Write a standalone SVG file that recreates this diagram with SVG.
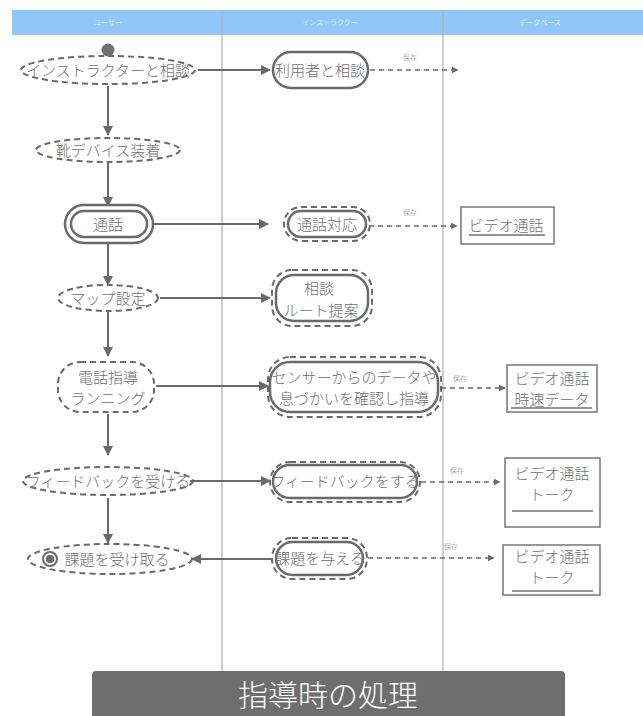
<svg xmlns="http://www.w3.org/2000/svg" width="643" height="716" viewBox="0 0 643 716">
<style>
text{font-family:"Noto Sans CJK JP","Noto Sans",sans-serif;fill:#707070;font-weight:300;}
.t{font-size:15px;text-anchor:middle;}
.hd{font-size:7px;fill:#ffffff;text-anchor:middle;}
.lb{font-size:7px;text-anchor:middle;fill:#808080;}
.dsh{fill:none;stroke:#6a6a6a;stroke-width:2;stroke-dasharray:6 4;}
.sol{fill:#ffffff;stroke:#6a6a6a;stroke-width:2.5;}
.box{fill:#ffffff;stroke:#777777;stroke-width:1.5;}
.ul{stroke:#707070;stroke-width:1.3;}
.lane{stroke:#b0b0b0;stroke-width:1.2;}
.c{stroke:#6a6a6a;stroke-width:2;fill:none;}
.cd{stroke:#6a6a6a;stroke-width:1.6;fill:none;stroke-dasharray:5 4;}
</style>
<defs>
<marker id="ah" viewBox="0 0 10 10" refX="9" refY="5" markerWidth="7" markerHeight="7" markerUnits="userSpaceOnUse" orient="auto"><path d="M0,0 L10,5 L0,10 z" fill="#6a6a6a"/></marker>
<marker id="ahb" viewBox="0 0 10 10" refX="9" refY="5" markerWidth="10" markerHeight="10" markerUnits="userSpaceOnUse" orient="auto"><path d="M0,0 L10,5 L0,10 z" fill="#6a6a6a"/></marker>
</defs>
<rect width="643" height="716" fill="#ffffff"/>
<g id="lanes">
<rect x="12" y="10" width="631" height="25" fill="#90c6f8"/>
<text class="hd" x="108" y="25">ユーザー</text>
<text class="hd" x="330" y="25">インストラクター</text>
<text class="hd" x="540" y="25">データベース</text>
<line class="lane" x1="222" y1="10" x2="222" y2="672"/>
<line class="lane" x1="443" y1="10" x2="443" y2="672"/>
</g>
<g id="connectors">
<line class="c" x1="108" y1="86" x2="108" y2="135" marker-end="url(#ahb)"/>
<line class="c" x1="108" y1="163" x2="108" y2="206" marker-end="url(#ahb)"/>
<line class="c" x1="108" y1="243" x2="108" y2="285" marker-end="url(#ahb)"/>
<line class="c" x1="108" y1="312" x2="108" y2="356" marker-end="url(#ahb)"/>
<line class="c" x1="108" y1="414" x2="108" y2="455" marker-end="url(#ahb)"/>
<line class="c" x1="108" y1="498" x2="108" y2="543" marker-end="url(#ahb)"/>
<line class="c" x1="198" y1="70" x2="270" y2="70" marker-end="url(#ahb)"/>
<line class="c" x1="151" y1="224" x2="268" y2="224" marker-end="url(#ahb)"/>
<line class="c" x1="160" y1="298" x2="270" y2="298" marker-end="url(#ahb)"/>
<line class="c" x1="156" y1="386" x2="268" y2="386" marker-end="url(#ahb)"/>
<line class="c" x1="190" y1="481" x2="270" y2="481" marker-end="url(#ahb)"/>
<line class="c" x1="272" y1="559" x2="192" y2="559" marker-end="url(#ahb)"/>
<line class="cd" x1="370" y1="70" x2="458" y2="70" marker-end="url(#ah)"/>
<text class="lb" x="410" y="60">保存</text>
<line class="cd" x1="369" y1="226" x2="457" y2="226" marker-end="url(#ah)"/>
<text class="lb" x="410" y="215">保存</text>
<line class="cd" x1="441" y1="388" x2="505" y2="388" marker-end="url(#ah)"/>
<text class="lb" x="460" y="381">保存</text>
<line class="cd" x1="421" y1="482" x2="500" y2="482" marker-end="url(#ah)"/>
<text class="lb" x="457" y="473">保存</text>
<line class="cd" x1="368" y1="558" x2="494" y2="558" marker-end="url(#ah)"/>
<text class="lb" x="451" y="549">保存</text>
</g>
<g id="n1">
<ellipse class="dsh" cx="108" cy="70" rx="87" ry="14"/>
<circle cx="108" cy="50" r="6.5" fill="#707070"/>
<text class="t" x="108" y="76">インストラクターと相談</text>
</g>
<g id="n2">
<rect class="sol" x="273" y="52" width="95" height="36" rx="18"/>
<text class="t" x="320" y="76">利用者と相談</text>
</g>
<g id="n3">
<ellipse class="dsh" cx="108" cy="150" rx="72" ry="12"/>
<text class="t" x="108" y="156">靴デバイス装着</text>
</g>
<g id="n4">
<rect class="sol" x="65" y="205" width="88" height="38" rx="19"/>
<rect class="sol" x="71" y="211" width="76" height="26" rx="13"/>
<text class="t" x="108" y="230">通話</text>
</g>
<g id="n5">
<rect class="dsh" x="284" y="207" width="86" height="34" rx="17"/>
<rect class="sol" x="288" y="211" width="78" height="26" rx="13"/>
<text class="t" x="327" y="230">通話対応</text>
</g>
<g id="n6">
<rect class="box" x="461" y="207" width="93" height="37"/>
<text class="t" x="506" y="231">ビデオ通話</text>
<line class="ul" x1="469" y1="235" x2="545" y2="235"/>
</g>
<g id="n7">
<ellipse class="dsh" cx="108" cy="298" rx="50" ry="13"/>
<text class="t" x="108" y="304">マップ設定</text>
</g>
<g id="n8">
<rect class="dsh" x="272" y="270" width="100" height="56" rx="20"/>
<rect class="sol" x="276" y="275" width="92" height="46" rx="18"/>
<text class="t" x="319" y="294">相談</text>
<text class="t" x="321" y="316">ルート提案</text>
</g>
<g id="n9">
<rect class="dsh" x="58" y="362" width="96" height="50" rx="22"/>
<text class="t" x="108" y="383">電話指導</text>
<text class="t" x="108" y="404">ランニング</text>
</g>
<g id="n10">
<rect class="dsh" x="268" y="357" width="173" height="60" rx="22"/>
<rect class="sol" x="270" y="362" width="168" height="50" rx="20"/>
<text class="t" x="354" y="383">センサーからのデータや</text>
<text class="t" x="354" y="404">息づかいを確認し指導</text>
</g>
<g id="n11">
<rect class="box" x="507" y="365" width="90" height="47"/>
<text class="t" x="552" y="384">ビデオ通話</text>
<text class="t" x="552" y="405">時速データ</text>
<line class="ul" x1="511" y1="408" x2="592" y2="408"/>
</g>
<g id="n12">
<ellipse class="dsh" cx="108" cy="481" rx="85" ry="14"/>
<text class="t" x="108" y="487">フィードバックを受ける</text>
</g>
<g id="n13">
<rect class="dsh" x="270" y="462" width="150" height="40" rx="20"/>
<rect class="sol" x="273" y="465" width="144" height="33" rx="16.5"/>
<text class="t" x="345" y="487">フィードバックをする</text>
</g>
<g id="n14">
<rect class="box" x="505" y="458" width="95" height="69"/>
<text class="t" x="552" y="479">ビデオ通話</text>
<text class="t" x="552" y="500">トーク</text>
<line class="ul" x1="512" y1="511" x2="593" y2="511"/>
</g>
<g id="n15">
<ellipse class="dsh" cx="110" cy="559" rx="82" ry="15"/>
<circle cx="50" cy="559" r="7" fill="none" stroke="#6a6a6a" stroke-width="2"/>
<circle cx="50" cy="559" r="4.3" fill="#6a6a6a"/>
<text class="t" x="117" y="565">課題を受け取る</text>
</g>
<g id="n16">
<rect class="dsh" x="272" y="538" width="95" height="41" rx="20"/>
<rect class="sol" x="276" y="542" width="87" height="33" rx="16.5"/>
<text class="t" x="320" y="564">課題を与える</text>
</g>
<g id="n17">
<rect class="box" x="503" y="545" width="97" height="50"/>
<text class="t" x="552" y="562">ビデオ通話</text>
<text class="t" x="552" y="583">トーク</text>
<line class="ul" x1="512" y1="591" x2="593" y2="591"/>
</g>
<g id="title">
<rect x="92" y="671" width="473" height="60" rx="4" fill="#6e6e6e"/>
<text x="328" y="706" font-size="30" text-anchor="middle" style="fill:#ffffff">指導時の処理</text>
</g>
</svg>
